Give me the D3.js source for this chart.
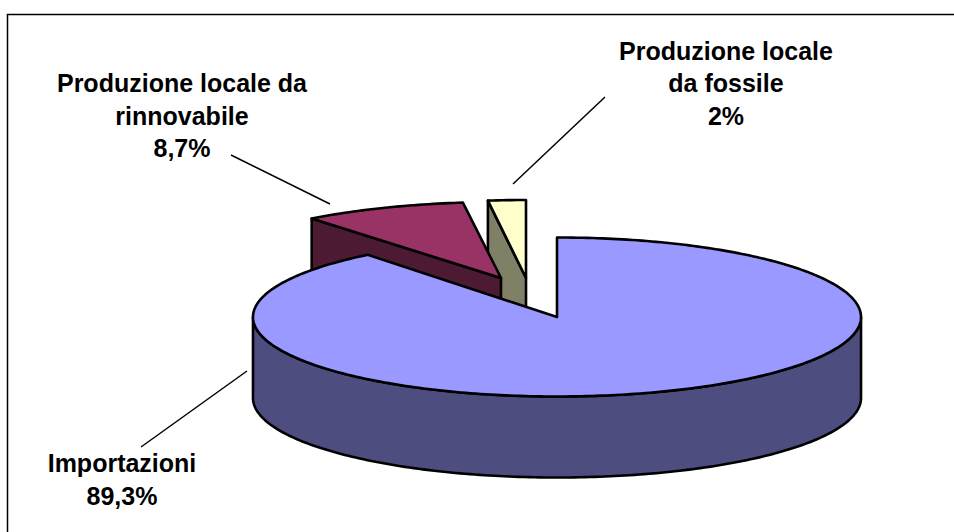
<!DOCTYPE html>
<html>
<head>
<meta charset="utf-8">
<script src="https://cdn.jsdelivr.net/npm/d3@7"></script>
<style>
    html, body { margin: 0; background: #fff; }
    text { font-family: "Liberation Sans", Arial, sans-serif; font-weight: bold; font-size: 25px; fill: #000; text-anchor: middle; }
</style>
</head>
<body>
<div id="chart"></div>
<script>
const categories = ["Importazioni", "Produzione locale da rinnovabile", "Produzione locale da fossile"];
const shares = [89.3, 8.7, 2];
const valueLabels = ["89,3%", "8,7%", "2%"];
const labelLines = [
    ["Importazioni"],
    ["Produzione locale da", "rinnovabile"],
    ["Produzione locale", "da fossile"]
];
const topColors = ["#9999ff", "#993366", "#ffffcc"];
const sideColors = ["#4d4d80", "#4d1a33", "#808066"];

const width = 954, height = 532;
const rx = 304, depth = 81;

// where each slice's tip sits (slices 2 and 3 are pulled out)
const tips = [[557, 317], [501, 278], [526, 278]];
// the pulled out slices look a bit flatter
const ryBySlice = [79.5, 76, 78];
const labelPos = [[122, 472], [182, 92], [726, 59.5]];
const labelStep = [33, 32.5, 32.7];
const leaders = [
    [[141, 447], [247, 371]],
    [[231, 155], [330, 204]],
    [[513, 184], [605, 97]]
];

const svg = d3.select("#chart").append("svg")
    .attr("width", width)
    .attr("height", height)
    .style("display", "block");

// frame, only top and left show up in the picture
svg.append("path")
    .attr("d", d3.line()([[7.5, height], [7.5, 14.5], [width, 14.5]]))
    .attr("fill", "none")
    .attr("stroke", "#000")
    .attr("stroke-width", 1.5);

const pie = d3.pie().sort(null).value(d => d);
const slices = pie(shares);
const line = d3.line();

function rim(i, a) {
    const tip = tips[i];
    return [tip[0] + rx * Math.sin(a), tip[1] - ryBySlice[i] * Math.cos(a)];
}

function rimPoints(i, a0, a1) {
    const n = Math.max(2, Math.ceil((a1 - a0) * 60));
    return d3.range(n + 1).map(k => rim(i, a0 + (a1 - a0) * k / n));
}

function draw(d, fill) {
    svg.append("path")
        .attr("d", d)
        .attr("fill", fill)
        .attr("stroke", "#000")
        .attr("stroke-width", 2.6)
        .attr("stroke-linejoin", "round");
}

function drawSlice(i) {
    const s = slices[i], tip = tips[i];
    const below = p => [p[0], p[1] + depth];

    if (i === 0) {
        // outer wall, front half of the ellipse only
        const wall = rimPoints(i, Math.PI / 2, 3 * Math.PI / 2);
        draw(line(wall.concat(wall.slice().reverse().map(below))) + "Z", sideColors[i]);
    } else {
        // cut face on the side turned to the viewer
        const p = rim(i, s.startAngle);
        draw(line([p, tip, below(tip), below(p)]) + "Z", sideColors[i]);
    }

    const top = [tip].concat(rimPoints(i, s.startAngle, s.endAngle));
    draw(line(top) + "Z", topColors[i]);
}

// back slices first, the big one covers them
drawSlice(2);
drawSlice(1);
drawSlice(0);

leaders.forEach(l => {
    svg.append("path")
        .attr("d", line(l))
        .attr("fill", "none")
        .attr("stroke", "#000")
        .attr("stroke-width", 1.5);
});

categories.forEach((c, i) => {
    const lines = labelLines[i].concat(valueLabels[i]);
    const t = svg.append("text").attr("class", "label");
    lines.forEach((txt, j) => {
        t.append("tspan")
            .attr("x", labelPos[i][0])
            .attr("y", labelPos[i][1] + j * labelStep[i])
            .text(txt);
    });
});
</script>
</body>
</html>
